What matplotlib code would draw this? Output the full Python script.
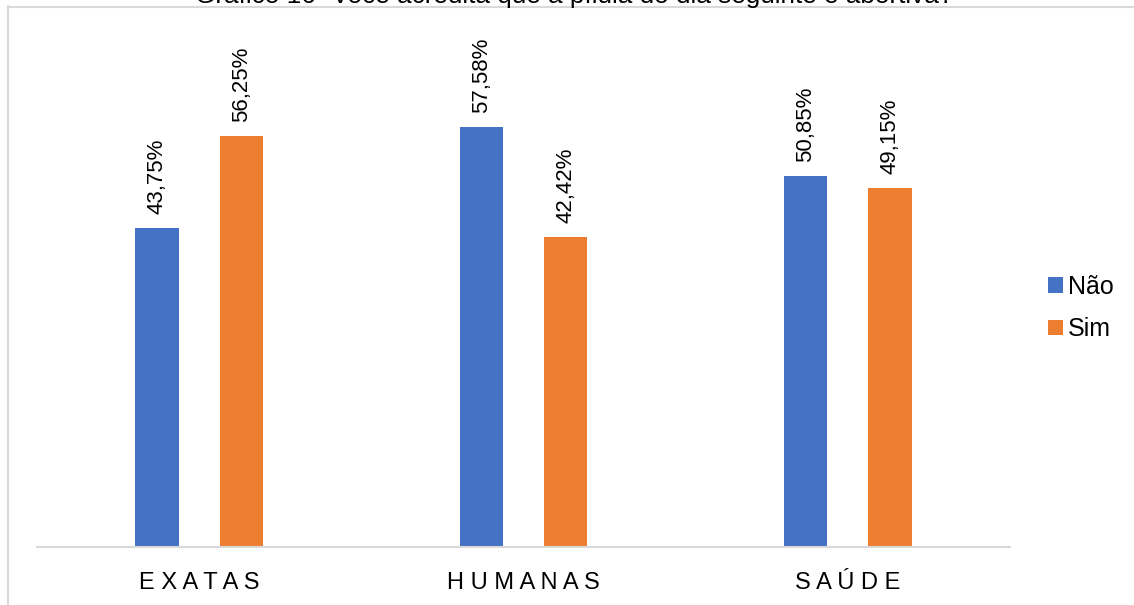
import matplotlib
matplotlib.use("Agg")
import matplotlib.pyplot as plt
from matplotlib.lines import Line2D
import numpy as np

plt.rcParams['font.family'] = ['Liberation Sans', 'DejaVu Sans']

categories = ["E X A T A S", "H U M A N A S", "S A Ú D E"]
series_names = ["Não", "Sim"]
nao = [43.75, 57.58, 50.85]
sim = [56.25, 42.42, 49.15]
labels_nao = ["43,75%", "57,58%", "50,85%"]
labels_sim = ["56,25%", "42,42%", "49,15%"]
title = "Gráfico 16- Você acredita que a pílula do dia seguinte é abortiva?"

colors = ["#4472C4", "#ED7D31"]

W, H = 1134, 605
fig = plt.figure(figsize=(W / 100, H / 100), dpi=100)
ax = fig.add_axes([37 / W, 1 - 547 / H, (1010 - 37) / W, (547 - 36) / H])

x = np.arange(len(categories))
width = 0.133
offset = 0.13
bars_n = ax.bar(x - offset, nao, width, color=colors[0], label=series_names[0])
bars_s = ax.bar(x + offset, sim, width, color=colors[1], label=series_names[1])

for bars, labs in ((bars_n, labels_nao), (bars_s, labels_sim)):
    for b, t in zip(bars, labs):
        ax.annotate(t, (b.get_x() + b.get_width() / 2, b.get_height()),
                    xytext=(0, 10), textcoords="offset points",
                    rotation=90, ha="center", va="bottom", fontsize=16,
                    color="#000000")

ax.set_xlim(-0.5, 2.5)
ax.set_ylim(0, 70)
ax.set_xticks(x)
ax.set_xticklabels(categories, fontsize=17)
ax.tick_params(axis="x", length=0, pad=18)
ax.set_yticks([])
for s in ("top", "right", "left"):
    ax.spines[s].set_visible(False)
ax.spines["bottom"].set_color("#d9d9d9")
ax.spines["bottom"].set_linewidth(1.5)

leg = fig.legend(handles=[bars_n, bars_s], labels=series_names,
                 loc="center left", bbox_to_anchor=(1030 / W, 1 - 308 / H),
                 frameon=False, fontsize=18, handlelength=0.6, handleheight=0.6,
                 handletextpad=0.2, labelspacing=0.75, borderpad=0.2)

# chart frame edges
fig.add_artist(Line2D([7.5 / W, 7.5 / W], [0, 1 - 6 / H], transform=fig.transFigure,
                      color="#d9d9d9", lw=1.5))
fig.add_artist(Line2D([7.5 / W, 1], [1 - 6.5 / H, 1 - 6.5 / H], transform=fig.transFigure,
                      color="#d9d9d9", lw=1.5))

fig.text(574 / W, 1 - 3 / H, title, ha="center", va="baseline", fontsize=18.8,
         color="#000000")

fig.savefig("out.png", dpi=100, facecolor="white")
